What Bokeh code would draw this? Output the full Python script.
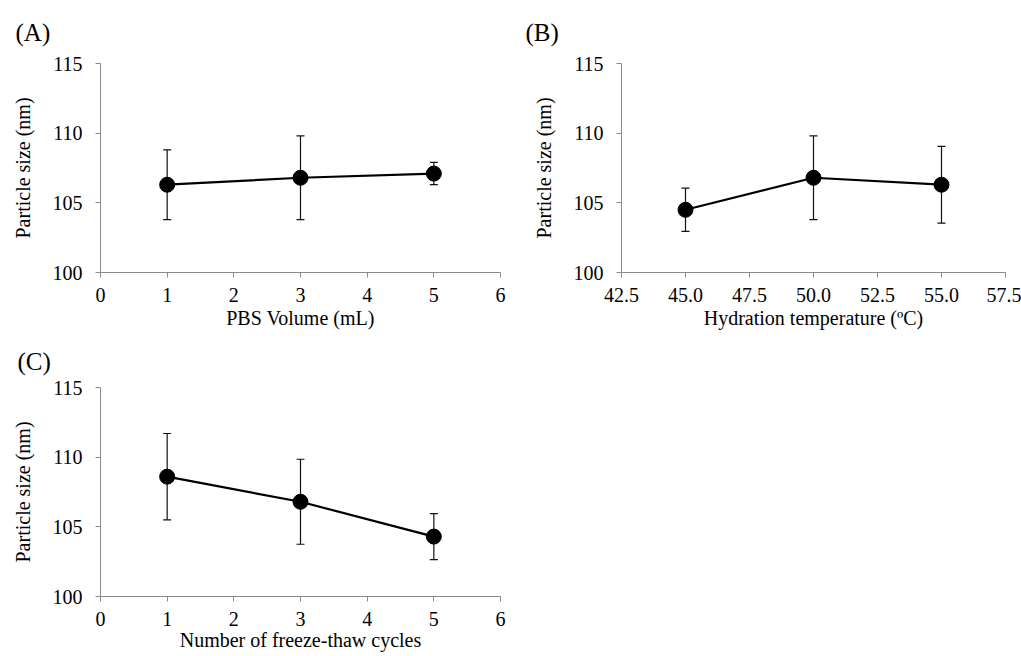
from bokeh.plotting import figure
from bokeh.models import (ColumnDataSource, Range1d, FixedTicker, Whisker, TeeHead,
                          NumeralTickFormatter)
from bokeh.layouts import column, row
from bokeh.embed import file_html
from bokeh.resources import INLINE

# ---- data ----
pbs_volume = [1, 3, 5]
pbs_size = [106.3, 106.8, 107.1]
pbs_err = [2.5, 3.0, 0.8]

hyd_temp = [45.0, 50.0, 55.0]
hyd_size = [104.5, 106.8, 106.3]
hyd_err = [1.55, 3.0, 2.75]

ft_cycles = [1, 3, 5]
ft_size = [108.6, 106.8, 104.3]
ft_err = [3.1, 3.05, 1.65]

y_ticks = [100, 105, 110, 115]
x_ticks_ac = [0, 1, 2, 3, 4, 5, 6]
x_ticks_b = [42.5, 45.0, 47.5, 50.0, 52.5, 55.0, 57.5]

FONT = "Liberation Serif"
AXIS_COLOR = "#8a8a8a"


def make_panel(xs, ys, errs, xr, xticks, xlabel, tag, width, height,
               b_left, b_right, b_top, b_bottom, tag_offset, tag_standoff, xfmt=None,
               xlabel_standoff=2):
    p = figure(width=width, height=height, output_backend="svg", toolbar_location=None,
               x_range=Range1d(*xr), y_range=Range1d(100, 115),
               min_border_left=b_left, min_border_right=b_right,
               min_border_top=b_top, min_border_bottom=b_bottom)
    p.outline_line_color = None
    p.grid.visible = False
    p.background_fill_color = "white"
    p.border_fill_color = "white"

    for ax in (p.xaxis[0], p.yaxis[0]):
        ax.axis_line_color = AXIS_COLOR
        ax.axis_line_width = 1
        ax.major_tick_line_color = AXIS_COLOR
        ax.major_tick_out = 5
        ax.major_tick_in = 0
        ax.minor_tick_line_color = None
        ax.major_label_text_font = FONT
        ax.major_label_text_font_size = "20px"
        ax.major_label_text_color = "black"
        ax.axis_label_text_font = FONT
        ax.axis_label_text_font_size = "20px"
        ax.axis_label_text_font_style = "normal"
        ax.axis_label_text_color = "black"

    p.xaxis.ticker = FixedTicker(ticks=xticks)
    p.yaxis.ticker = FixedTicker(ticks=y_ticks)
    if xfmt:
        p.xaxis.formatter = NumeralTickFormatter(format=xfmt)
    p.xaxis.major_label_standoff = 10
    p.yaxis.major_label_standoff = 13
    p.xaxis.axis_label = xlabel
    p.yaxis.axis_label = "Particle size (nm)"
    p.xaxis.axis_label_standoff = xlabel_standoff
    p.yaxis.axis_label_standoff = 16

    p.title.text = tag
    p.title.align = "left"
    p.title.vertical_align = "top"
    p.title.offset = tag_offset
    p.title.standoff = tag_standoff
    p.title.text_font = FONT
    p.title.text_font_size = "25px"
    p.title.text_font_style = "normal"
    p.title.text_color = "black"

    src = ColumnDataSource(dict(
        x=xs, y=ys,
        upper=[v + e for v, e in zip(ys, errs)],
        lower=[v - e for v, e in zip(ys, errs)],
    ))
    p.line("x", "y", source=src, line_color="black", line_width=2.2)
    w = Whisker(base="x", upper="upper", lower="lower", source=src, dimension="height",
                line_color="#111111", line_width=1.2,
                upper_head=TeeHead(size=8, line_color="#111111", line_width=1.2),
                lower_head=TeeHead(size=8, line_color="#111111", line_width=1.2))
    p.add_layout(w)
    p.scatter("x", "y", source=src, size=15, fill_color="black", line_color="black")
    return p


pA = make_panel(pbs_volume, pbs_size, pbs_err, (0, 6), x_ticks_ac, "PBS Volume (mL)", "(A)",
                width=513, height=334, b_left=100, b_right=13, b_top=63, b_bottom=62,
                tag_offset=-85, tag_standoff=32)
pB = make_panel(hyd_temp, hyd_size, hyd_err, (42.5, 57.5), x_ticks_b,
                "Hydration temperature (ºC)", "(B)",
                width=508, height=334, b_left=108, b_right=16, b_top=63, b_bottom=62,
                tag_offset=-96, tag_standoff=32, xfmt="0.0")
pC = make_panel(ft_cycles, ft_size, ft_err, (0, 6), x_ticks_ac, "Number of freeze-thaw cycles",
                "(C)", width=513, height=322, b_left=100, b_right=13, b_top=53, b_bottom=60,
                tag_offset=-83, tag_standoff=22, xlabel_standoff=0)

layout = column(row(pA, pB), pC)

open("out.html", "w").write(file_html(layout, INLINE))
